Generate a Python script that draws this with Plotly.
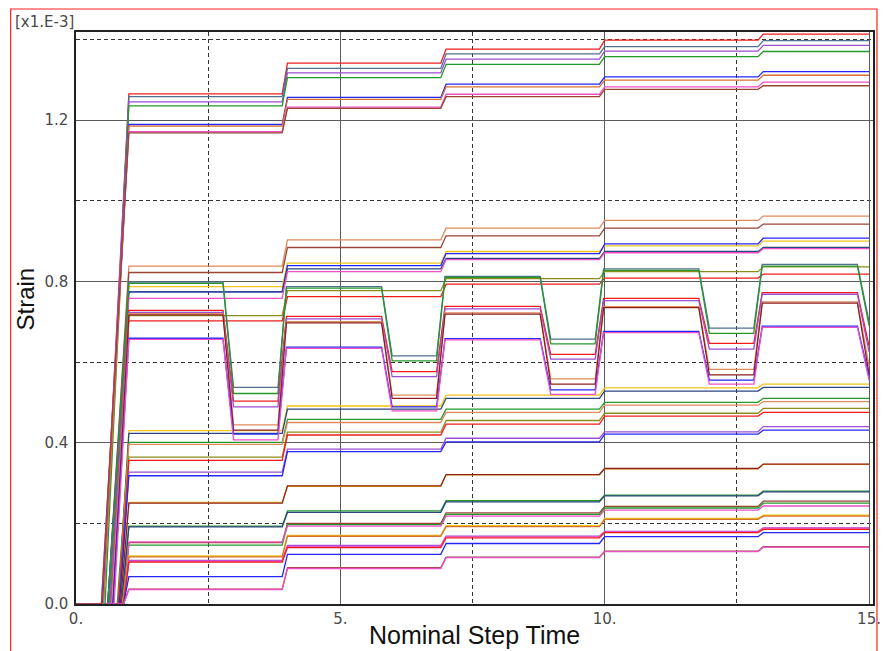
import plotly.graph_objects as go

# ---------------- data (strain in 1e-3) ----------------
# time breakpoints of the loading history
PLATEAU_START = [1.0, 4.0, 7.0, 10.0, 13.0]
PLATEAU_END = [3.9, 6.9, 9.9, 12.9, 15.0]
HIGH_START = [1.0, 3.98, 6.98, 9.98, 12.98]
HIGH_END = [2.78, 5.78, 8.78, 11.78, 14.78]
LOW_START = [2.98, 5.98, 8.98, 11.98]
LOW_END = [3.82, 6.82, 9.82, 12.82]
END_TIME = 15.0

# top group: plateau levels for the five load steps
TOP_LEVELS = [
    [1.265, 1.341, 1.376, 1.398, 1.413],
    [1.258, 1.328, 1.364, 1.382, 1.397],
    [1.245, 1.317, 1.351, 1.371, 1.385],
    [1.235, 1.305, 1.338, 1.357, 1.370],
    [1.189, 1.256, 1.289, 1.307, 1.320],
    [1.185, 1.251, 1.282, 1.299, 1.311],
    [1.171, 1.232, 1.264, 1.282, 1.294],
    [1.168, 1.229, 1.258, 1.276, 1.285],
]
TOP_T0 = [0.50, 0.52, 0.50, 0.55, 0.50, 0.52, 0.48, 0.48]

# upper-middle monotone group
MID_LEVELS = [
    [0.838, 0.903, 0.932, 0.951, 0.962],
    [0.822, 0.884, 0.913, 0.932, 0.942],
    [0.787, 0.845, 0.874, 0.888, 0.900],
    [0.774, 0.839, 0.869, 0.893, 0.907],
    [0.774, 0.831, 0.857, 0.874, 0.884],
    [0.758, 0.824, 0.854, 0.871, 0.881],
    [0.715, 0.777, 0.807, 0.824, 0.836],
    [0.702, 0.762, 0.793, 0.808, 0.818],
]
MID_T0 = [0.60, 0.60, 0.62, 0.60, 0.62, 0.65, 0.65, 0.68]

# oscillating group: high1, low1, high2, low2, high3, low3, high4, low4, high5, end value
OSC_LEVELS = [
    [0.798, 0.537, 0.787, 0.615, 0.812, 0.657, 0.831, 0.684, 0.842, 0.700],
    [0.795, 0.522, 0.783, 0.603, 0.810, 0.645, 0.827, 0.671, 0.838, 0.690],
    [0.728, 0.503, 0.713, 0.576, 0.738, 0.619, 0.758, 0.646, 0.772, 0.640],
    [0.723, 0.489, 0.707, 0.564, 0.732, 0.607, 0.752, 0.632, 0.768, 0.625],
    [0.720, 0.444, 0.700, 0.518, 0.722, 0.558, 0.737, 0.582, 0.749, 0.590],
    [0.717, 0.431, 0.697, 0.510, 0.719, 0.545, 0.735, 0.568, 0.746, 0.570],
    [0.659, 0.421, 0.637, 0.489, 0.658, 0.531, 0.676, 0.555, 0.689, 0.565],
    [0.656, 0.407, 0.634, 0.479, 0.655, 0.520, 0.673, 0.545, 0.686, 0.555],
]
OSC_T0 = [0.60, 0.62, 0.65, 0.65, 0.68, 0.70, 0.70, 0.72]

# lower monotone group
LOW_LEVELS = [
    [0.430, 0.491, 0.518, 0.536, 0.545],
    [0.423, 0.483, 0.510, 0.528, 0.537],
    [0.401, 0.458, 0.483, 0.500, 0.510],
    [0.396, 0.450, 0.475, 0.493, 0.502],
    [0.364, 0.426, 0.455, 0.473, 0.485],
    [0.356, 0.419, 0.446, 0.466, 0.475],
    [0.327, 0.384, 0.411, 0.427, 0.440],
    [0.318, 0.378, 0.402, 0.421, 0.431],
    [0.252, 0.292, 0.320, 0.335, 0.346],
    [0.250, 0.293, 0.321, 0.336, 0.347],
    [0.193, 0.231, 0.256, 0.270, 0.280],
    [0.191, 0.227, 0.253, 0.268, 0.278],
    [0.152, 0.200, 0.226, 0.242, 0.255],
    [0.146, 0.197, 0.222, 0.238, 0.250],
    [0.154, 0.193, 0.218, 0.233, 0.243],
    [0.119, 0.170, 0.194, 0.212, 0.220],
    [0.117, 0.168, 0.192, 0.210, 0.218],
    [0.108, 0.145, 0.168, 0.180, 0.189],
    [0.106, 0.143, 0.167, 0.179, 0.188],
    [0.104, 0.140, 0.164, 0.177, 0.185],
    [0.068, 0.123, 0.150, 0.167, 0.177],
    [0.037, 0.090, 0.116, 0.131, 0.142],
    [0.036, 0.088, 0.115, 0.130, 0.141],
]
LOW_T0 = [0.80, 0.80, 0.78, 0.80, 0.82, 0.80, 0.83, 0.82,
          0.85, 0.84, 0.86, 0.86, 0.88, 0.88, 0.90,
          0.88, 0.88, 0.90, 0.90, 0.90, 0.90, 0.90, 0.90]

X_TICKS = [0, 5, 10, 15]
X_TICK_TEXT = ['0.', '5.', '10.', '15.']
X_MINOR = [2.5, 7.5, 12.5]
Y_TICKS = [0.0, 0.4, 0.8, 1.2]
Y_TICK_TEXT = ['0.0', '0.4', '0.8', '1.2']
Y_MINOR = [0.2, 0.6, 1.0, 1.4]

# ---------------- styles ----------------
PAL = {
    'red': '#f01c1c', 'steel': '#52708f', 'purple': '#9b4fd3', 'green': '#23992b',
    'blue': '#2626f2', 'orange': '#d8702e', 'magenta': '#ee4fc4', 'brown': '#9a4436',
    'salmon': '#e08a5c', 'navy': '#2a4680', 'gold': '#f0c419', 'olive': '#8c8c1a',
    'darkred': '#8e1f1f',
}
TOP_COLORS = ['red', 'steel', 'purple', 'green', 'blue', 'orange', 'magenta', 'brown']
MID_COLORS = ['salmon', 'brown', 'gold', 'blue', 'navy', 'magenta', 'olive', 'red']
OSC_COLORS = ['steel', 'green', 'red', 'purple', 'salmon', 'darkred', 'blue', 'magenta']
LOW_COLORS = ['gold', 'navy', 'green', 'salmon', 'olive', 'red', 'purple', 'blue',
              'gold', 'darkred', 'green', 'navy', 'brown', 'green', 'magenta',
              'gold', 'orange', 'purple', 'magenta', 'red', 'blue', 'brown', 'magenta']
LINE_W = 1.3


def mono_xy(t0, levels):
    xs, ys = [0.0, t0], [0.0, 0.0]
    for s, e, v in zip(PLATEAU_START, PLATEAU_END, levels):
        xs += [s, e]
        ys += [v, v]
    return xs, ys


def osc_xy(t0, lv):
    highs = lv[0:9:2]
    lows = lv[1:9:2]
    xs, ys = [0.0, t0], [0.0, 0.0]
    for i in range(5):
        xs += [HIGH_START[i], HIGH_END[i]]
        ys += [highs[i], highs[i]]
        if i < 4:
            xs += [LOW_START[i], LOW_END[i]]
            ys += [lows[i], lows[i]]
    xs.append(END_TIME)
    ys.append(lv[9])
    return xs, ys


fig = go.Figure()


def add(xs, ys, color):
    fig.add_trace(go.Scatter(x=xs, y=ys, mode='lines',
                             line=dict(color=PAL[color], width=LINE_W),
                             hoverinfo='skip', showlegend=False))


for lv, t0, c in zip(LOW_LEVELS, LOW_T0, LOW_COLORS):
    add(*mono_xy(t0, lv), c)
for lv, t0, c in zip(MID_LEVELS, MID_T0, MID_COLORS):
    add(*mono_xy(t0, lv), c)
for lv, t0, c in zip(OSC_LEVELS, OSC_T0, OSC_COLORS):
    add(*osc_xy(t0, lv), c)
for lv, t0, c in zip(TOP_LEVELS, TOP_T0, TOP_COLORS):
    add(*mono_xy(t0, lv), c)

L, R, T, B = 76, 6, 32, 47
W, H = 887, 651
PW, PH = W - L - R, H - T - B
X_MAX = PW / 53.4
Y_MAX = PH / 403.3


def px(xpix):
    return (xpix - L) / PW


def py(ypix):
    return (H - B - ypix) / PH


tick_font = dict(family='DejaVu Sans', size=15, color='#4a4a4a')

fig.update_layout(
    width=W, height=H,
    margin=dict(l=L, r=R, t=T, b=B, pad=0),
    paper_bgcolor='white', plot_bgcolor='white',
    showlegend=False,
    xaxis=dict(range=[0, X_MAX], tickmode='array', tickvals=X_TICKS, ticktext=X_TICK_TEXT,
               showgrid=True, gridcolor='#5a5a5a', gridwidth=1.2, zeroline=False,
               showline=True, mirror=True, linecolor='#222222', linewidth=1.5,
               ticks='', tickfont=tick_font, ticklabelstandoff=0,
               minor=dict(tickmode='array', tickvals=X_MINOR, showgrid=True,
                          gridcolor='#333333', gridwidth=1, griddash='4px,3px', ticks='')),
    yaxis=dict(range=[0, Y_MAX], tickmode='array', tickvals=Y_TICKS, ticktext=Y_TICK_TEXT,
               showgrid=True, gridcolor='#5a5a5a', gridwidth=1.2, zeroline=False,
               showline=True, mirror=True, linecolor='#222222', linewidth=1.5,
               ticks='', tickfont=tick_font, ticklabelstandoff=3,
               minor=dict(tickmode='array', tickvals=Y_MINOR, showgrid=True,
                          gridcolor='#333333', gridwidth=1, griddash='4px,3px', ticks='')),
    shapes=[dict(type='rect', xref='paper', yref='paper',
                 x0=px(10), x1=px(885), y0=py(9), y1=py(660),
                 line=dict(color='#ff2020', width=1.2), fillcolor='rgba(0,0,0,0)',
                 layer='above')],
    annotations=[
        dict(text='[x1.E-3]', xref='paper', yref='paper', x=px(12), y=py(22),
             xanchor='left', yanchor='middle', showarrow=False,
             font=dict(family='DejaVu Sans', size=15, color='#4a4a4a')),
        dict(text='Nominal Step Time', xref='paper', yref='paper', x=px(478.5), y=py(635),
             xanchor='center', yanchor='middle', showarrow=False,
             font=dict(family='Liberation Sans', size=25, color='#111111')),
        dict(text='Strain', xref='paper', yref='paper', x=px(24), y=py(299),
             xanchor='center', yanchor='middle', showarrow=False, textangle=-90,
             font=dict(family='Liberation Sans', size=24, color='#111111')),
    ],
)

fig.write_html('out.html', config={'displayModeBar': False},
               post_script="document.body.style.margin='0';document.body.style.padding='0';")
